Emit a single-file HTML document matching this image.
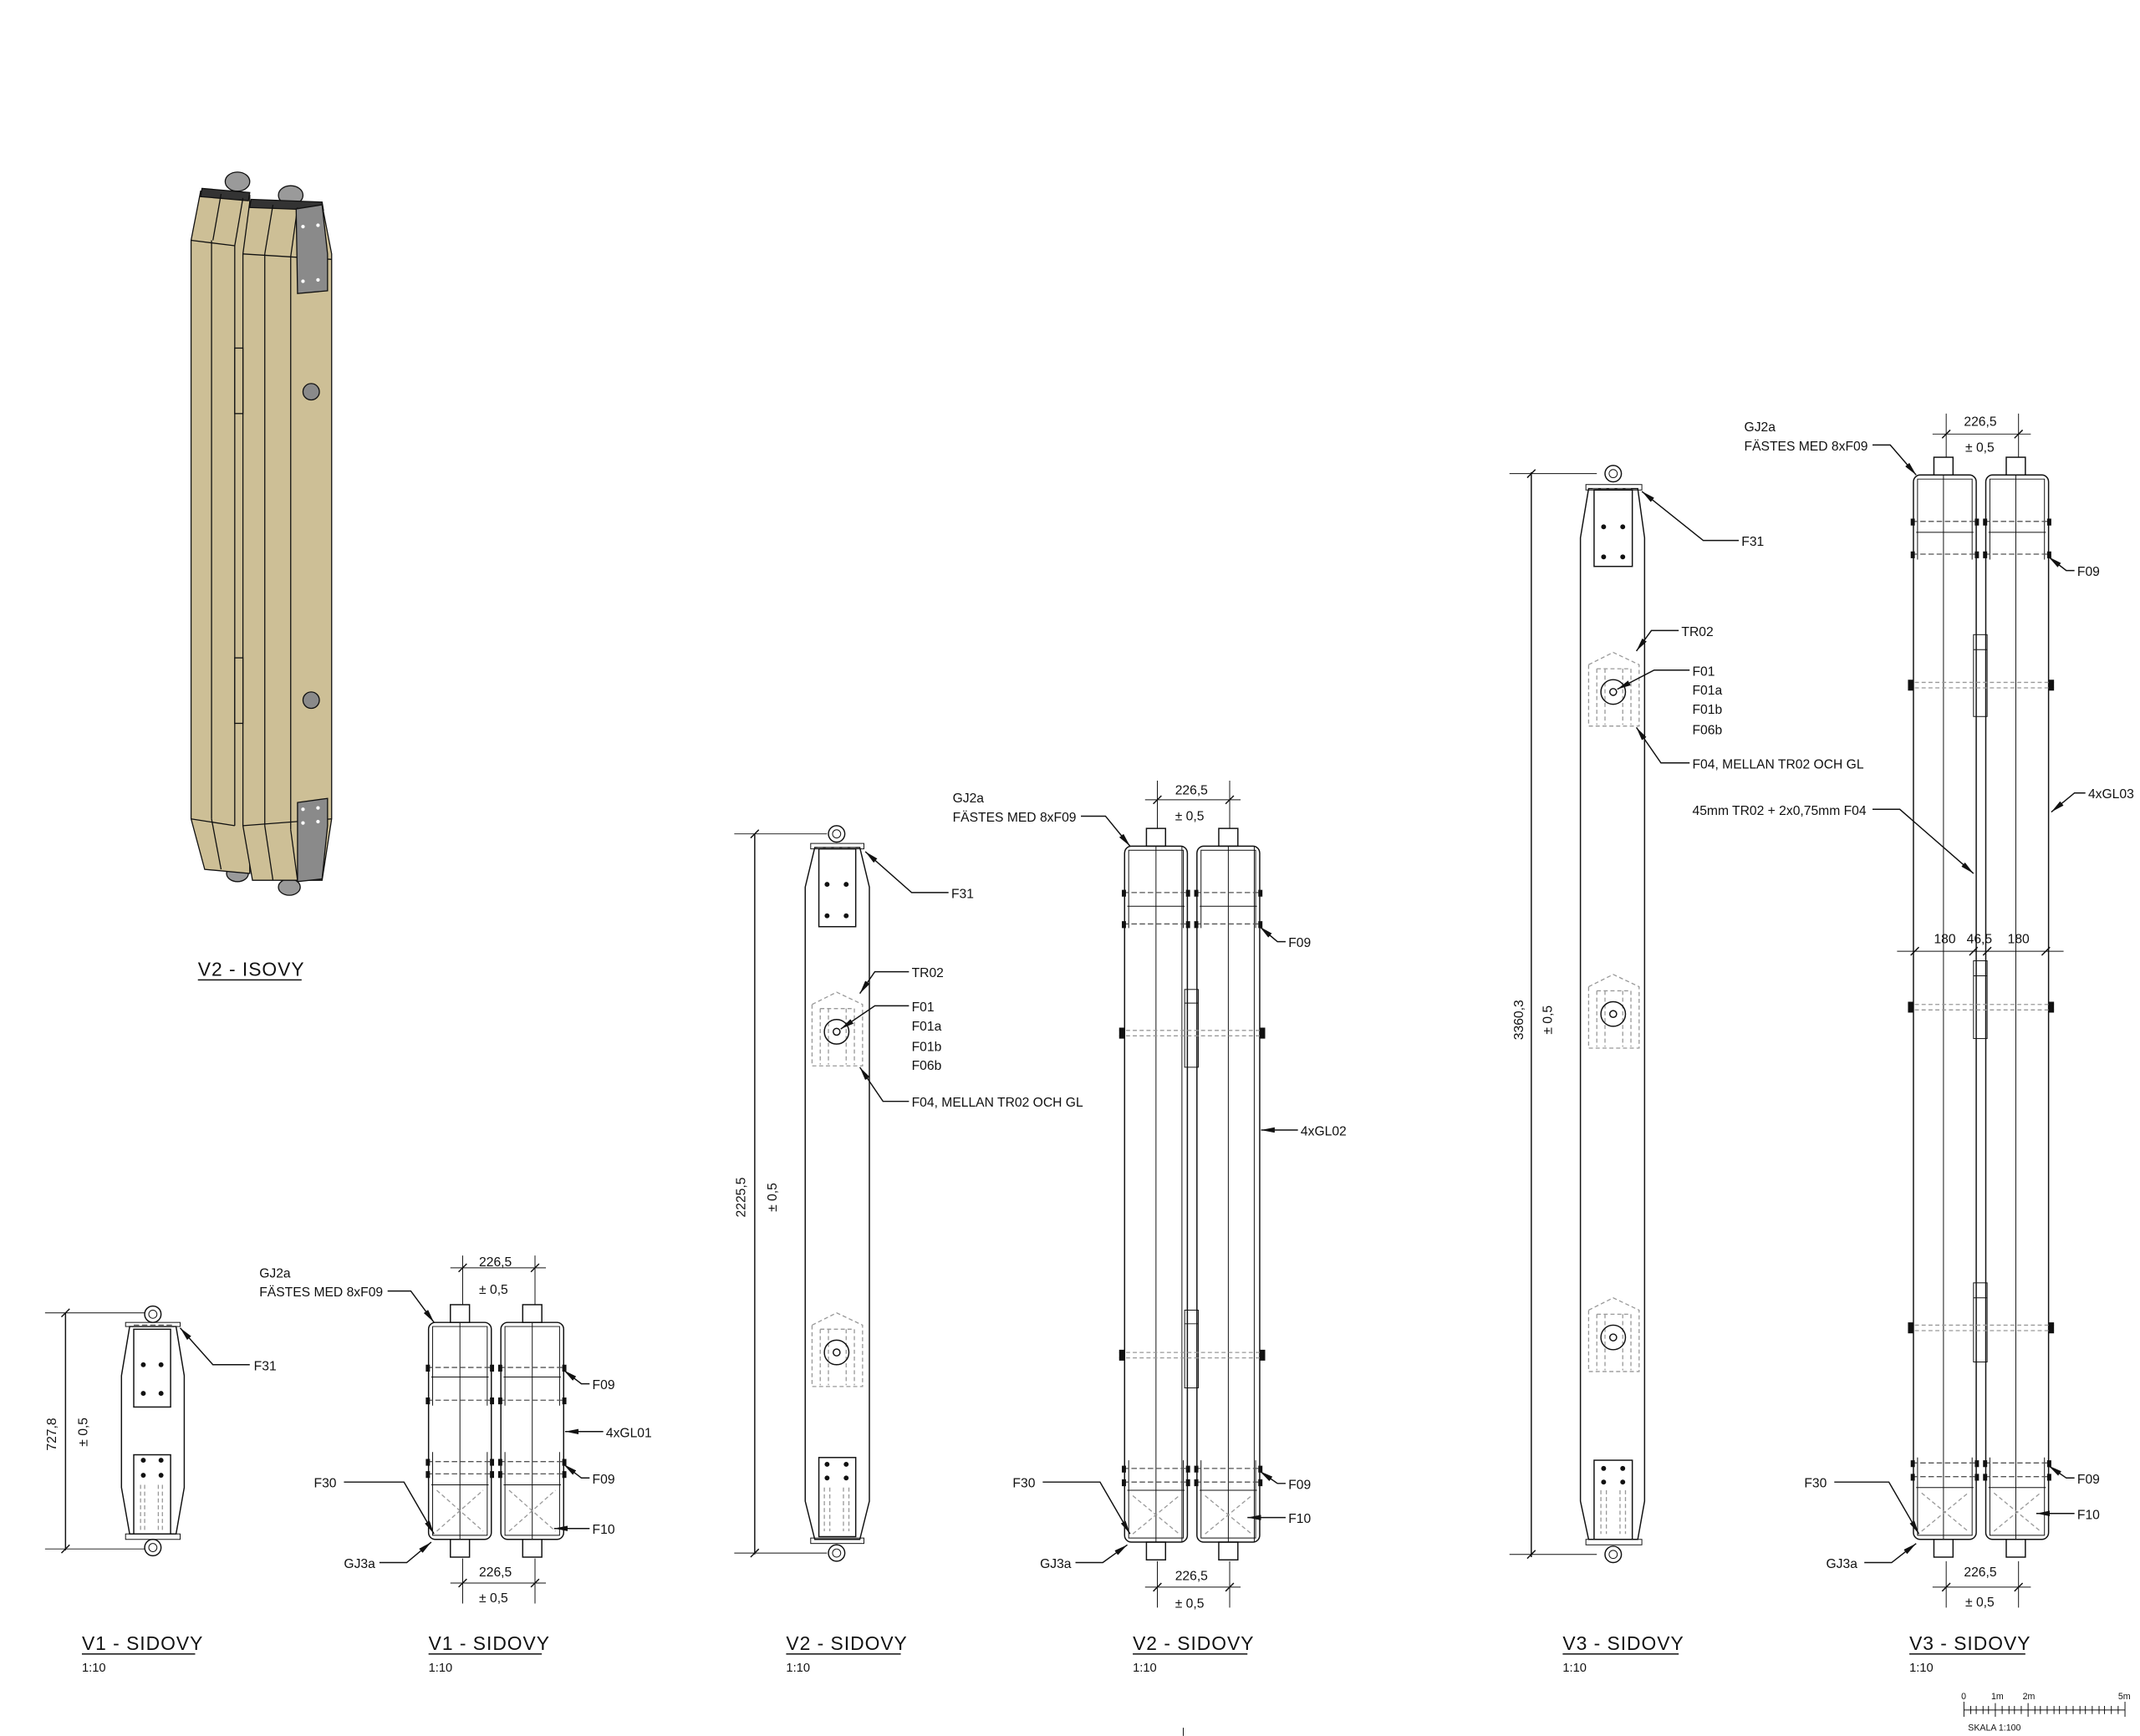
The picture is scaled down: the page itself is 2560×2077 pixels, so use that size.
<!DOCTYPE html>
<html><head><meta charset="utf-8"><style>
html,body{margin:0;padding:0;background:#fff}
svg{display:block}
text{font-family:"Liberation Sans Narrow","Liberation Sans",sans-serif;font-size:9.6px;fill:#111;letter-spacing:0}
.t{font-size:14px;letter-spacing:0.6px}
.s{font-size:9px;letter-spacing:0}
.l{fill:none;stroke:#111;stroke-width:0.9}
.th{fill:none;stroke:#111;stroke-width:0.6}
.d{fill:none;stroke:#555;stroke-width:0.8;stroke-dasharray:4 2}
.dg{fill:none;stroke:#999;stroke-width:0.8;stroke-dasharray:3 2}
.bk{fill:#111;stroke:none}
</style></head><body>
<svg width="2560" height="2077" viewBox="0 0 1568 1272" xmlns="http://www.w3.org/2000/svg">
<defs>
<marker id="a" viewBox="0 0 10 4" refX="10" refY="2" markerWidth="10" markerHeight="4" orient="auto" markerUnits="userSpaceOnUse"><path d="M0,0 L10,2 L0,4 Z" fill="#111"/></marker>
</defs>

<!-- ISO VIEW -->
<g stroke="#111" stroke-width="0.8">
<ellipse cx="174" cy="133" rx="9" ry="7" fill="#9a9a9a"/>
<ellipse cx="213" cy="143" rx="9" ry="7" fill="#9a9a9a"/>
<ellipse cx="174" cy="640" rx="8" ry="6" fill="#9a9a9a"/>
<ellipse cx="212" cy="650" rx="8" ry="6" fill="#9a9a9a"/>
<polygon points="147,140 183,143 183,640 150,637 140,600 140,176" fill="#cdbf96"/>
<polygon points="148,138 183,141 182,147 147,144" fill="#333"/>
<line x1="155" y1="176" x2="155" y2="600"/><line x1="162" y1="142" x2="156" y2="176"/>
<line x1="172" y1="180" x2="172" y2="605"/><line x1="178" y1="145" x2="172" y2="180"/>
<line x1="140" y1="176" x2="172" y2="180"/><line x1="140" y1="600" x2="172" y2="605"/>
<line x1="155" y1="600" x2="162" y2="637"/>
<polygon points="183,148 236,150 243,186 243,600 236,645 185,645 178,605 178,186" fill="#cdbf96"/>
<polygon points="184,146 236,148 237,154 183,152" fill="#333"/>
<line x1="194" y1="186" x2="194" y2="605"/><line x1="200" y1="150" x2="194" y2="186"/>
<line x1="213" y1="188" x2="213" y2="608"/><line x1="218" y1="152" x2="213" y2="188"/>
<line x1="178" y1="186" x2="243" y2="190"/><line x1="178" y1="605" x2="243" y2="600"/>
<line x1="194" y1="605" x2="200" y2="645"/><line x1="213" y1="608" x2="218" y2="645"/>
<polygon points="217,153 236,150 240,186 240,213 218,215" fill="#8a8a8a"/>
<polygon points="218,588 240,585 240,605 236,644 218,646" fill="#8a8a8a"/>
<rect x="172" y="255" width="6" height="48" fill="#cdbf96"/>
<rect x="172" y="482" width="6" height="48" fill="#cdbf96"/>
<ellipse cx="228" cy="287" rx="6" ry="6" fill="#8a8a8a"/>
<ellipse cx="228" cy="513" rx="6" ry="6" fill="#8a8a8a"/>
</g>
<g fill="#fff"><circle cx="222" cy="166" r="1.3"/><circle cx="233" cy="165" r="1.3"/><circle cx="222" cy="206" r="1.3"/><circle cx="233" cy="205" r="1.3"/>
<circle cx="222" cy="593" r="1.3"/><circle cx="233" cy="592" r="1.3"/><circle cx="222" cy="603" r="1.3"/><circle cx="233" cy="602" r="1.3"/></g>
<text x="145" y="715" class="t">V2 - ISOVY</text><line x1="145" y1="718" x2="221" y2="718" class="l"/>

<!-- V1 SIDE -->
<circle cx="112" cy="963" r="6" class="l"/><circle cx="112" cy="963" r="3" class="th"/>
<circle cx="112" cy="1134" r="6" class="l"/><circle cx="112" cy="1134" r="3" class="th"/>
<path class="l" d="M95,972 L89,1008 L89,1090 L95,1124 L129,1124 L135,1090 L135,1008 L129,972 Z"/>
<rect x="92" y="969" width="40" height="3" class="th"/><line x1="98" y1="971" x2="126" y2="971" class="d"/>
<rect x="92" y="1124" width="40" height="4" class="th"/>
<rect x="98" y="974" width="27" height="57" class="l"/>
<rect x="98" y="1066" width="27" height="58" class="l"/>
<g class="bk"><circle cx="105" cy="1000" r="1.8"/><circle cx="118" cy="1000" r="1.8"/><circle cx="105" cy="1021" r="1.8"/><circle cx="118" cy="1021" r="1.8"/>
<circle cx="105" cy="1070" r="1.8"/><circle cx="118" cy="1070" r="1.8"/><circle cx="105" cy="1081" r="1.8"/><circle cx="118" cy="1081" r="1.8"/></g>
<path class="dg" d="M103,1088V1122M106,1088V1122M116,1088V1122M119,1088V1122"/>
<line x1="48" y1="962" x2="48" y2="1136" class="l"/>
<line x1="33" y1="962" x2="106" y2="962" class="th"/><line x1="33" y1="1135" x2="106" y2="1135" class="th"/>
<path class="l" d="M45,965 L51,959 M45,1138 L51,1132" stroke-width="1.8"/>
<text transform="translate(41,1063) rotate(-90)">727,8</text>
<text transform="translate(64,1060) rotate(-90)">± 0,5</text>
<path class="l" d="M183,1000 H156 L132,973" marker-end="url(#a)"/><text x="186" y="1004">F31</text>
<text x="60" y="1209" class="t">V1 - SIDOVY</text><line x1="60" y1="1212" x2="143" y2="1212" class="l"/><text x="60" y="1225" class="s">1:10</text>

<!-- V1 FRONT -->
<g id="v1c">
<rect x="330" y="956" width="14" height="13" class="l"/>
<rect x="330" y="1128" width="14" height="13" class="l"/>
<rect x="314" y="969" width="46" height="159" rx="5" class="l"/>
<path class="th" d="M317,1030 V972 H357 V1030 M317,1064 V1125 H357 V1064"/>
<line x1="337" y1="969" x2="337" y2="1128" class="th"/>
<line x1="316" y1="1009" x2="358" y2="1009" class="th"/>
<line x1="316" y1="1088" x2="358" y2="1088" class="th"/>
<path class="d" d="M313,1002H361M313,1026H361M313,1071H361M313,1080H361"/>
<path class="bk" d="M312,1000h3v5h-3zM359,1000h3v5h-3zM312,1024h3v5h-3zM359,1024h3v5h-3zM312,1069h3v5h-3zM359,1069h3v5h-3zM312,1078h3v5h-3zM359,1078h3v5h-3z"/>
<path class="dg" d="M320,1122L354,1092M320,1092L354,1122"/>
</g>
<use href="#v1c" x="53"/>
<line x1="339" y1="920" x2="339" y2="956" class="th"/><line x1="392" y1="920" x2="392" y2="956" class="th"/>
<line x1="330" y1="929" x2="400" y2="929" class="th"/>
<path class="l" stroke-width="1.6" d="M336,932L342,926M389,932L395,926"/>
<text x="351" y="928">226,5</text><text x="351" y="948">± 0,5</text>
<line x1="339" y1="1142" x2="339" y2="1175" class="th"/><line x1="392" y1="1142" x2="392" y2="1175" class="th"/>
<line x1="330" y1="1160" x2="400" y2="1160" class="th"/>
<path class="l" stroke-width="1.6" d="M336,1163L342,1157M389,1163L395,1157"/>
<text x="351" y="1155">226,5</text><text x="351" y="1174">± 0,5</text>
<text x="190" y="936">GJ2a</text><text x="190" y="950">FÄSTES MED 8xF09</text>
<path class="l" d="M284,946 H301 L318,969" marker-end="url(#a)"/>
<path class="l" d="M432,1014 H426 L413,1004" marker-end="url(#a)"/><text x="434" y="1018">F09</text>
<path class="l" d="M442,1049 H414" marker-end="url(#a)"/><text x="444" y="1053">4xGL01</text>
<path class="l" d="M432,1083 H426 L413,1073" marker-end="url(#a)"/><text x="434" y="1087">F09</text>
<path class="l" d="M432,1120 H406" marker-end="url(#a)"/><text x="434" y="1124">F10</text>
<text x="230" y="1090">F30</text><path class="l" d="M252,1086 H296 L318,1124" marker-end="url(#a)"/>
<text x="252" y="1149">GJ3a</text><path class="l" d="M278,1145 H298 L316,1130" marker-end="url(#a)"/>
<text x="314" y="1209" class="t">V1 - SIDOVY</text><line x1="314" y1="1212" x2="397" y2="1212" class="l"/><text x="314" y="1225" class="s">1:10</text>

<!-- V2 SIDE -->
<circle cx="613" cy="611" r="6" class="l"/><circle cx="613" cy="611" r="3" class="th"/>
<circle cx="613" cy="1138" r="6" class="l"/><circle cx="613" cy="1138" r="3" class="th"/>
<path class="l" d="M597,621 L590,650 L590,1100 L597,1128 L630,1128 L637,1100 L637,650 L630,621 Z"/>
<rect x="594" y="618" width="39" height="4" class="th"/><line x1="599" y1="621" x2="628" y2="621" class="d"/>
<rect x="594" y="1127" width="39" height="4" class="th"/>
<rect x="600" y="622" width="27" height="57" class="l"/>
<rect x="600" y="1068" width="27" height="58" class="l"/>
<g class="bk"><circle cx="606" cy="648" r="1.8"/><circle cx="620" cy="648" r="1.8"/><circle cx="606" cy="671" r="1.8"/><circle cx="620" cy="671" r="1.8"/>
<circle cx="606" cy="1073" r="1.8"/><circle cx="620" cy="1073" r="1.8"/><circle cx="606" cy="1083" r="1.8"/><circle cx="620" cy="1083" r="1.8"/></g>
<path class="dg" d="M604,1090V1122M608,1090V1122M618,1090V1122M622,1090V1122"/>
<g id="tr2">
<path class="dg" d="M595,736 L613,727 L632,736 V781 H595 Z M601,739 H626 V780 M601,739 V780 M607,739 V780 M620,739 V780"/>
<circle cx="613" cy="756" r="9" class="l"/><circle cx="613" cy="756" r="2.5" class="l" stroke-width="1.4"/>
</g>
<use href="#tr2" y="235"/>
<line x1="553" y1="611" x2="553" y2="1139" class="l"/>
<line x1="538" y1="611" x2="606" y2="611" class="th"/><line x1="538" y1="1138" x2="606" y2="1138" class="th"/>
<path class="l" stroke-width="1.6" d="M550,614L556,608M550,1141L556,1135"/>
<text transform="translate(546,892) rotate(-90)">2225,5</text>
<text transform="translate(569,888) rotate(-90)">± 0,5</text>
<path class="l" d="M695,654 H668 L634,624" marker-end="url(#a)"/><text x="697" y="658">F31</text>
<path class="l" d="M666,712 H641 L630,728" marker-end="url(#a)"/><text x="668" y="716">TR02</text>
<path class="l" d="M666,737 H641 L616,754" marker-end="url(#a)"/>
<text x="668" y="741">F01</text><text x="668" y="755">F01a</text><text x="668" y="770">F01b</text><text x="668" y="784">F06b</text>
<path class="l" d="M666,807 H647 L630,782" marker-end="url(#a)"/><text x="668" y="811">F04, MELLAN TR02 OCH GL</text>
<text x="576" y="1209" class="t">V2 - SIDOVY</text><line x1="576" y1="1212" x2="660" y2="1212" class="l"/><text x="576" y="1225" class="s">1:10</text>

<!-- V2 FRONT -->
<g id="v2c">
<rect x="840" y="607" width="14" height="13" class="l"/>
<rect x="840" y="1130" width="14" height="13" class="l"/>
<rect x="824" y="620" width="46" height="510" rx="5" class="l"/>
<path class="th" d="M827,680 V623 H867 V680 M827,1070 V1127 H867 V1070"/>
<line x1="847" y1="620" x2="847" y2="1130" class="th"/>
<line x1="866" y1="620" x2="866" y2="1130" class="th"/>
<line x1="826" y1="664" x2="868" y2="664" class="th"/>
<line x1="826" y1="1092" x2="868" y2="1092" class="th"/>
<path class="d" d="M823,654H871M823,677H871M823,1076H871M823,1086H871"/>
<path class="bk" d="M822,652h3v5h-3zM869,652h3v5h-3zM822,675h3v5h-3zM869,675h3v5h-3zM822,1074h3v5h-3zM869,1074h3v5h-3zM822,1084h3v5h-3zM869,1084h3v5h-3z"/>
<path class="dg" d="M830,1124L864,1096M830,1096L864,1124"/>
</g>
<use href="#v2c" x="53"/>
<rect x="868" y="725" width="10" height="57" class="th"/><line x1="868" y1="735" x2="878" y2="735" class="th"/>
<rect x="868" y="960" width="10" height="57" class="th"/><line x1="868" y1="970" x2="878" y2="970" class="th"/>
<path class="dg" d="M820,755H926M820,759H926M820,991H926M820,995H926"/>
<path class="bk" d="M820,753h4v8h-4zM923,753h4v8h-4zM820,989h4v8h-4zM923,989h4v8h-4z"/>
<line x1="848" y1="572" x2="848" y2="607" class="th"/><line x1="901" y1="572" x2="901" y2="607" class="th"/>
<line x1="839" y1="586" x2="909" y2="586" class="th"/>
<path class="l" stroke-width="1.6" d="M845,589L851,583M898,589L904,583"/>
<text x="861" y="582">226,5</text><text x="861" y="601">± 0,5</text>
<line x1="848" y1="1144" x2="848" y2="1178" class="th"/><line x1="901" y1="1144" x2="901" y2="1178" class="th"/>
<line x1="839" y1="1163" x2="909" y2="1163" class="th"/>
<path class="l" stroke-width="1.6" d="M845,1166L851,1160M898,1166L904,1160"/>
<text x="861" y="1158">226,5</text><text x="861" y="1178">± 0,5</text>
<text x="698" y="588">GJ2a</text><text x="698" y="602">FÄSTES MED 8xF09</text>
<path class="l" d="M792,598 H810 L828,620" marker-end="url(#a)"/>
<path class="l" d="M942,690 H936 L923,679" marker-end="url(#a)"/><text x="944" y="694">F09</text>
<path class="l" d="M951,828 H924" marker-end="url(#a)"/><text x="953" y="832">4xGL02</text>
<path class="l" d="M942,1087 H936 L923,1078" marker-end="url(#a)"/><text x="944" y="1091">F09</text>
<path class="l" d="M942,1112 H914" marker-end="url(#a)"/><text x="944" y="1116">F10</text>
<text x="742" y="1090">F30</text><path class="l" d="M764,1086 H806 L828,1124" marker-end="url(#a)"/>
<text x="762" y="1149">GJ3a</text><path class="l" d="M788,1145 H808 L826,1132" marker-end="url(#a)"/>
<text x="830" y="1209" class="t">V2 - SIDOVY</text><line x1="830" y1="1212" x2="914" y2="1212" class="l"/><text x="830" y="1225" class="s">1:10</text>

<!-- V3 SIDE -->
<circle cx="1182" cy="347" r="6" class="l"/><circle cx="1182" cy="347" r="3" class="th"/>
<circle cx="1182" cy="1139" r="6" class="l"/><circle cx="1182" cy="1139" r="3" class="th"/>
<path class="l" d="M1164,358 L1158,394 L1158,1100 L1164,1128 L1200,1128 L1205,1100 L1205,394 L1200,358 Z"/>
<rect x="1162" y="355" width="41" height="4" class="th"/><line x1="1167" y1="358" x2="1197" y2="358" class="d"/>
<rect x="1162" y="1128" width="41" height="4" class="th"/>
<rect x="1168" y="359" width="28" height="56" class="l"/>
<rect x="1168" y="1070" width="28" height="58" class="l"/>
<g class="bk"><circle cx="1175" cy="386" r="1.8"/><circle cx="1189" cy="386" r="1.8"/><circle cx="1175" cy="408" r="1.8"/><circle cx="1189" cy="408" r="1.8"/>
<circle cx="1175" cy="1076" r="1.8"/><circle cx="1189" cy="1076" r="1.8"/><circle cx="1175" cy="1086" r="1.8"/><circle cx="1189" cy="1086" r="1.8"/></g>
<path class="dg" d="M1173,1092V1124M1177,1092V1124M1187,1092V1124M1191,1092V1124"/>
<use href="#tr2" x="569" y="-249"/>
<use href="#tr2" x="569" y="-13"/>
<use href="#tr2" x="569" y="224"/>
<line x1="1122" y1="346" x2="1122" y2="1141" class="l"/>
<line x1="1106" y1="347" x2="1170" y2="347" class="th"/><line x1="1106" y1="1139" x2="1170" y2="1139" class="th"/>
<path class="l" stroke-width="1.6" d="M1119,350L1125,344M1119,1142L1125,1136"/>
<text transform="translate(1116,762) rotate(-90)">3360,3</text>
<text transform="translate(1137,758) rotate(-90)">± 0,5</text>
<path class="l" d="M1274,396 H1248 L1203,360" marker-end="url(#a)"/><text x="1276" y="400">F31</text>
<path class="l" d="M1230,462 H1210 L1199,477" marker-end="url(#a)"/><text x="1232" y="466">TR02</text>
<path class="l" d="M1238,491 H1212 L1185,505" marker-end="url(#a)"/>
<text x="1240" y="495">F01</text><text x="1240" y="509">F01a</text><text x="1240" y="523">F01b</text><text x="1240" y="538">F06b</text>
<path class="l" d="M1238,559 H1217 L1199,533" marker-end="url(#a)"/><text x="1240" y="563">F04, MELLAN TR02 OCH GL</text>
<text x="1240" y="597">45mm TR02 + 2x0,75mm F04</text>
<path class="l" d="M1372,593 H1392 L1446,640" marker-end="url(#a)"/>
<text x="1145" y="1209" class="t">V3 - SIDOVY</text><line x1="1145" y1="1212" x2="1230" y2="1212" class="l"/><text x="1145" y="1225" class="s">1:10</text>

<!-- V3 FRONT -->
<g id="v3c">
<rect x="1417" y="335" width="14" height="13" class="l"/>
<rect x="1417" y="1128" width="14" height="13" class="l"/>
<rect x="1402" y="348" width="46" height="780" rx="5" class="l"/>
<path class="th" d="M1405,410 V351 H1445 V410 M1405,1068 V1125 H1445 V1068"/>
<line x1="1424" y1="348" x2="1424" y2="1128" class="th"/>
<line x1="1404" y1="390" x2="1446" y2="390" class="th"/>
<line x1="1404" y1="1090" x2="1446" y2="1090" class="th"/>
<path class="d" d="M1401,382H1449M1401,406H1449M1401,1072H1449M1401,1082H1449"/>
<path class="bk" d="M1400,380h3v5h-3zM1447,380h3v5h-3zM1400,404h3v5h-3zM1447,404h3v5h-3zM1400,1070h3v5h-3zM1447,1070h3v5h-3zM1400,1080h3v5h-3zM1447,1080h3v5h-3z"/>
<path class="dg" d="M1408,1122L1442,1094M1408,1094L1442,1122"/>
</g>
<use href="#v3c" x="53"/>
<rect x="1446" y="465" width="10" height="60" class="th"/><line x1="1446" y1="476" x2="1456" y2="476" class="th"/>
<rect x="1446" y="704" width="10" height="57" class="th"/><line x1="1446" y1="715" x2="1456" y2="715" class="th"/>
<rect x="1446" y="940" width="10" height="58" class="th"/><line x1="1446" y1="951" x2="1456" y2="951" class="th"/>
<path class="dg" d="M1398,500H1505M1398,504H1505M1398,736H1505M1398,740H1505M1398,971H1505M1398,975H1505"/>
<path class="bk" d="M1398,498h4v8h-4zM1501,498h4v8h-4zM1398,734h4v8h-4zM1501,734h4v8h-4zM1398,969h4v8h-4zM1501,969h4v8h-4z"/>
<line x1="1426" y1="303" x2="1426" y2="335" class="th"/><line x1="1479" y1="303" x2="1479" y2="335" class="th"/>
<line x1="1416" y1="318" x2="1488" y2="318" class="th"/>
<path class="l" stroke-width="1.6" d="M1423,321L1429,315M1476,321L1482,315"/>
<text x="1439" y="312">226,5</text><text x="1440" y="331">± 0,5</text>
<line x1="1390" y1="697" x2="1512" y2="697" class="th"/>
<path class="l" stroke-width="1.6" d="M1400,700L1406,694M1443,700L1449,694M1453,700L1459,694M1496,700L1502,694"/>
<text x="1417" y="691">180</text><text x="1441" y="691">46,5</text><text x="1471" y="691">180</text>
<line x1="1426" y1="1144" x2="1426" y2="1178" class="th"/><line x1="1479" y1="1144" x2="1479" y2="1178" class="th"/>
<line x1="1416" y1="1163" x2="1488" y2="1163" class="th"/>
<path class="l" stroke-width="1.6" d="M1423,1166L1429,1160M1476,1166L1482,1160"/>
<text x="1439" y="1155">226,5</text><text x="1440" y="1177">± 0,5</text>
<text x="1278" y="316">GJ2a</text><text x="1278" y="330">FÄSTES MED 8xF09</text>
<path class="l" d="M1372,326 H1385 L1404,348" marker-end="url(#a)"/>
<path class="l" d="M1520,418 H1514 L1501,408" marker-end="url(#a)"/><text x="1522" y="422">F09</text>
<path class="l" d="M1528,581 H1520 L1503,595" marker-end="url(#a)"/><text x="1530" y="585">4xGL03</text>
<path class="l" d="M1520,1083 H1514 L1501,1074" marker-end="url(#a)"/><text x="1522" y="1087">F09</text>
<path class="l" d="M1520,1109 H1492" marker-end="url(#a)"/><text x="1522" y="1113">F10</text>
<text x="1322" y="1090">F30</text><path class="l" d="M1344,1086 H1384 L1406,1124" marker-end="url(#a)"/>
<text x="1338" y="1149">GJ3a</text><path class="l" d="M1366,1145 H1386 L1404,1131" marker-end="url(#a)"/>
<text x="1399" y="1209" class="t">V3 - SIDOVY</text><line x1="1399" y1="1212" x2="1484" y2="1212" class="l"/><text x="1399" y="1225" class="s">1:10</text>

<!-- scale bar -->
<line x1="1439" y1="1253" x2="1557" y2="1253" class="th"/>
<path class="th" d="M1439,1247V1258M1462,1248V1258M1486,1248V1258M1509,1250V1256M1533,1250V1256M1557,1247V1258
M1444,1250V1256M1448,1250V1256M1453,1250V1256M1457,1250V1256M1467,1250V1256M1472,1250V1256M1476,1250V1256M1481,1250V1256
M1491,1250V1256M1495,1250V1256M1500,1250V1256M1505,1250V1256M1514,1250V1256M1519,1250V1256M1524,1250V1256M1528,1250V1256
M1538,1250V1256M1542,1250V1256M1547,1250V1256M1552,1250V1256"/>
<text x="1437" y="1245" style="font-size:6.5px;letter-spacing:0">0</text>
<text x="1459" y="1245" style="font-size:6.5px;letter-spacing:0">1m</text>
<text x="1482" y="1245" style="font-size:6.5px;letter-spacing:0">2m</text>
<text x="1552" y="1245" style="font-size:6.5px;letter-spacing:0">5m</text>
<text x="1442" y="1268" style="font-size:6.5px;letter-spacing:0">SKALA 1:100</text>
<line x1="867" y1="1266" x2="867" y2="1272" class="th"/>
</svg>
</body></html>
